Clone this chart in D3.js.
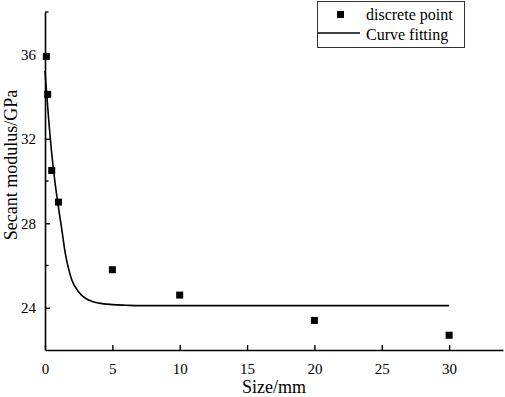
<!DOCTYPE html>
<html>
<head>
    <script src="https://cdnjs.cloudflare.com/ajax/libs/d3/7.8.5/d3.min.js"></script>
    <style>
        body { margin: 0; background: #fff; }
        text { font-family: "Liberation Serif", "Times New Roman", serif; fill: #000; }
    </style>
</head>
<body>
    <div id="chart"></div>

    <script>
        // measured points
        const sizes = [0.1, 0.2, 0.5, 1, 5, 10, 20, 30];
        const moduli = [35.9, 34.1, 30.5, 29.0, 25.8, 24.6, 23.4, 22.7];

        // fitted curve
        const fitX = [0, 0.25, 0.5, 0.75, 1, 1.25, 1.5, 1.75, 2, 2.5, 3, 3.5, 4, 5, 6, 7, 8, 10, 30];
        const fitY = [35.2, 33.1, 31.3, 29.9, 28.75, 27.7, 26.6, 25.85, 25.3, 24.75, 24.45, 24.3, 24.22, 24.15, 24.12, 24.1, 24.1, 24.1, 24.1];

        const xTicks = [0, 5, 10, 15, 20, 25, 30];
        const yMajor = [24, 28, 32, 36];
        const yMinor = [26, 30, 34, 38];

        const width = 505, height = 397;
        const margin = { top: 12, right: 2, bottom: 47, left: 45 };

        const svg = d3.select("#chart").append("svg")
            .attr("width", width)
            .attr("height", height);

        const x = d3.scaleLinear()
            .domain([0, 34])
            .range([margin.left, width - margin.right]);

        const y = d3.scaleLinear()
            .domain([22, 38])
            .range([height - margin.bottom, margin.top]);

        // x axis, ticks pointing inward
        const gx = svg.append("g")
            .attr("transform", `translate(0,${height - margin.bottom})`)
            .call(d3.axisBottom(x).tickValues(xTicks).tickSize(-5).tickPadding(13).tickSizeOuter(0))
            .attr("font-family", null);
        gx.select(".domain").attr("stroke-width", 1.6);
        gx.selectAll(".tick line").attr("stroke-width", 1.4);
        gx.selectAll("text").style("font-size", "15px");

        // y axis, major + minor ticks inward
        const gy = svg.append("g")
            .attr("transform", `translate(${margin.left},0)`)
            .call(d3.axisLeft(y).tickValues(yMajor).tickSize(-5).tickPadding(9).tickSizeOuter(0))
            .attr("font-family", null);
        gy.select(".domain").attr("stroke-width", 1.6);
        gy.selectAll(".tick line").attr("stroke-width", 1.4);
        gy.selectAll("text").style("font-size", "15px");

        gy.selectAll(".minor")
            .data(yMinor)
            .enter().append("line")
            .attr("class", "minor")
            .attr("x1", 0).attr("x2", 3.5)
            .attr("y1", d => y(d)).attr("y2", d => y(d))
            .attr("stroke", "#000")
            .attr("stroke-width", 1.4);

        // axis titles
        svg.append("text")
            .attr("x", (margin.left + width - margin.right) / 2)
            .attr("y", 393)
            .attr("text-anchor", "middle")
            .style("font-size", "18px")
            .text("Size/mm");

        svg.append("text")
            .attr("transform", "translate(17,165) rotate(-90)")
            .attr("text-anchor", "middle")
            .style("font-size", "18px")
            .text("Secant modulus/GPa");

        // fitted curve
        const line = d3.line()
            .x((d, i) => x(fitX[i]))
            .y(d => y(d))
            .curve(d3.curveMonotoneX);

        svg.append("path")
            .datum(fitY)
            .attr("d", line)
            .attr("fill", "none")
            .attr("stroke", "#000")
            .attr("stroke-width", 1.6);

        // discrete points
        const sq = 7;
        svg.selectAll(".pt")
            .data(sizes)
            .enter().append("rect")
            .attr("class", "pt")
            .attr("x", d => x(d) - sq / 2)
            .attr("y", (d, i) => y(moduli[i]) - sq / 2)
            .attr("width", sq)
            .attr("height", sq)
            .attr("fill", "#000");

        // legend
        const lg = svg.append("g");
        lg.append("rect")
            .attr("x", 317.5).attr("y", 1.5)
            .attr("width", 147).attr("height", 46)
            .attr("fill", "#fff")
            .attr("stroke", "#333")
            .attr("stroke-width", 1);
        lg.append("rect")
            .attr("x", 337).attr("y", 11)
            .attr("width", sq).attr("height", sq)
            .attr("fill", "#000");
        lg.append("line")
            .attr("x1", 318).attr("x2", 360)
            .attr("y1", 33).attr("y2", 33)
            .attr("stroke", "#000")
            .attr("stroke-width", 1.6);
        lg.append("text")
            .attr("x", 366).attr("y", 20)
            .style("font-size", "16px")
            .text("discrete point");
        lg.append("text")
            .attr("x", 366).attr("y", 40)
            .style("font-size", "16px")
            .text("Curve fitting");
    </script>
</body>
</html>
